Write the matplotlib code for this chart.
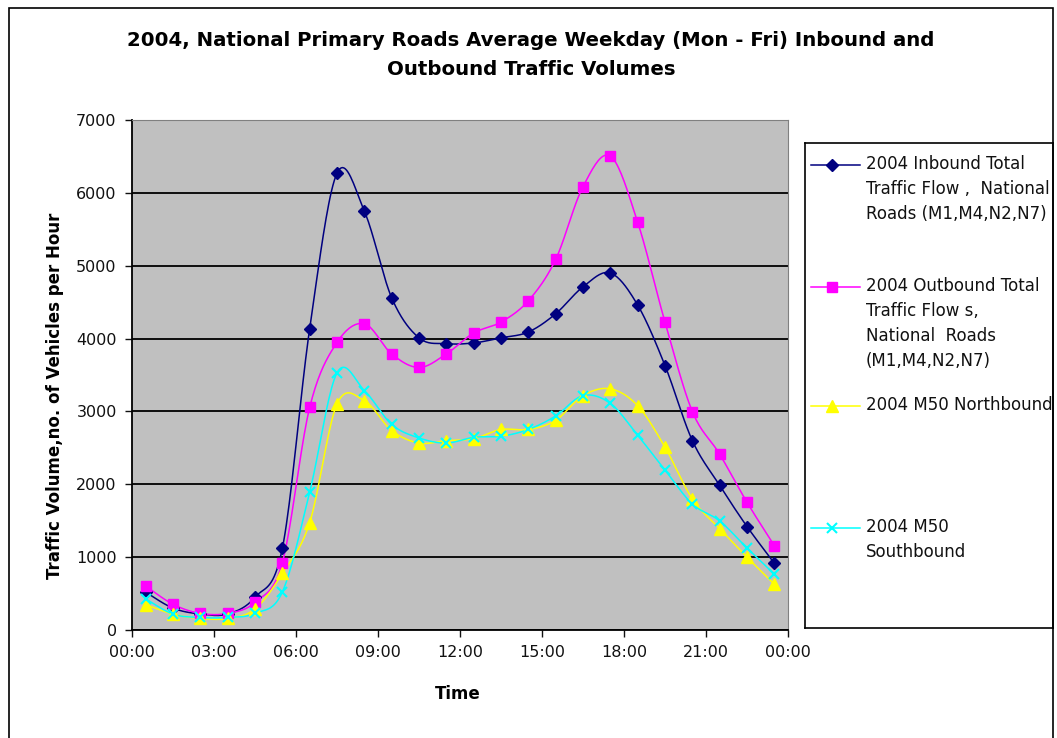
import numpy as np
import matplotlib
matplotlib.use('Agg')
import matplotlib.pyplot as plt
from matplotlib.patches import Rectangle

plt.rcParams['font.family'] = ['DejaVu Sans']

# hourly sample times (mid-hour)
times = ['00:30', '01:30', '02:30', '03:30', '04:30', '05:30', '06:30', '07:30',
         '08:30', '09:30', '10:30', '11:30', '12:30', '13:30', '14:30', '15:30',
         '16:30', '17:30', '18:30', '19:30', '20:30', '21:30', '22:30', '23:30']

inbound = [520, 300, 220, 220, 450, 1120, 4135, 6270, 5750, 4560, 4010, 3930,
           3940, 4010, 4090, 4340, 4710, 4900, 4460, 3630, 2600, 1985, 1420, 916]
outbound = [604, 353, 228, 228, 381, 925, 3054, 3947, 4203, 3789, 3603, 3789,
            4077, 4226, 4519, 5086, 6086, 6504, 5597, 4226, 2999, 2413, 1753, 1158]
m50_north = [349, 218, 158, 158, 288, 776, 1474, 3101, 3147, 2738, 2566, 2599,
             2627, 2752, 2752, 2878, 3217, 3310, 3078, 2510, 1799, 1390, 1000, 628]
m50_south = [428, 218, 172, 172, 228, 521, 1892, 3529, 3287, 2822, 2636, 2566,
             2645, 2659, 2752, 2938, 3217, 3110, 2673, 2195, 1730, 1497, 1125, 767]

series_labels = ['2004 Inbound Total\nTraffic Flow ,  National\nRoads (M1,M4,N2,N7)',
                 '2004 Outbound Total\nTraffic Flow s,\nNational  Roads\n(M1,M4,N2,N7)',
                 '2004 M50 Northbound',
                 '2004 M50\nSouthbound']

tick_hours = [0, 3, 6, 9, 12, 15, 18, 21, 24]
tick_labels = ['00:00', '03:00', '06:00', '09:00', '12:00', '15:00', '18:00', '21:00', '00:00']

hours = np.array([int(t[:2]) + int(t[3:]) / 60 for t in times])


def smooth(x, y, n=20):
    # Excel-style smoothed line: uniform Catmull-Rom through the points
    p = np.column_stack([x, y]).astype(float)
    p = np.vstack([p[0], p, p[-1]])
    out = []
    t = np.linspace(0, 1, n, endpoint=False)[:, None]
    for i in range(1, len(p) - 2):
        p0, p1, p2, p3 = p[i - 1], p[i], p[i + 1], p[i + 2]
        seg = 0.5 * ((2 * p1) + (-p0 + p2) * t + (2 * p0 - 5 * p1 + 4 * p2 - p3) * t ** 2
                     + (-p0 + 3 * p1 - 3 * p2 + p3) * t ** 3)
        out.append(seg)
    out.append(p[-2][None, :])
    out = np.vstack(out)
    return out[:, 0], out[:, 1]


W, H = 1057, 738
fig = plt.figure(figsize=(W / 100, H / 100), dpi=100)

# outer chart border
fig.patches.append(Rectangle((9 / W, -0.05), 1044 / W, 0.05 + (H - 8) / H,
                             transform=fig.transFigure, fill=False,
                             edgecolor='black', linewidth=1.2))

ax = fig.add_axes([132 / W, (H - 630) / H, 656 / W, 510 / H])
ax.set_facecolor('#C0C0C0')

styles = [
    dict(color='#000080', marker='D', ms=6.5, mec='#000080', mfc='#000080'),
    dict(color='#FF00FF', marker='s', ms=7, mec='#FF00FF', mfc='#FF00FF'),
    dict(color='#FFFF00', marker='^', ms=8, mec='#FFFF00', mfc='#FFFF00'),
    dict(color='#00FFFF', marker='x', ms=7.5, mec='#00FFFF', mew=1.5),
]
all_series = [inbound, outbound, m50_north, m50_south]

for vals, st in zip(all_series, styles):
    sx, sy = smooth(hours, vals)
    ax.plot(sx, sy, color=st['color'], lw=1.1, zorder=3)
    ax.plot(hours, vals, ls='none', zorder=4, **{k: v for k, v in st.items() if k != 'color'})

ax.set_xlim(0, 24)
ax.set_ylim(0, 7000)
ax.set_xticks(tick_hours)
ax.set_xticklabels(tick_labels)
ax.set_yticks(range(0, 7001, 1000))
ax.tick_params(direction='out', length=5, width=1, labelsize=11.5, colors='#111111', pad=6)
ax.yaxis.grid(True, color='black', lw=1.3)
ax.set_axisbelow(True)
for s in ['top', 'right']:
    ax.spines[s].set_color('#808080')
for s in ['left', 'bottom']:
    ax.spines[s].set_color('black')
    ax.spines[s].set_linewidth(1.3)

fig.text(531 / W, 1 - 55 / H,
         '2004, National Primary Roads Average Weekday (Mon - Fri) Inbound and\nOutbound Traffic Volumes',
         ha='center', va='center', fontsize=14.2, fontweight='bold', linespacing=1.7)
fig.text(55 / W, 1 - 396 / H, 'Traffic Volume,no. of Vehicles per Hour', rotation=90,
         ha='center', va='center', fontsize=12, fontweight='bold')
fig.text(458 / W, 1 - 694 / H, 'Time', ha='center', va='center', fontsize=12, fontweight='bold')

# legend box drawn as its own axes, in pixel units
lax = fig.add_axes([805 / W, (H - 628) / H, 248 / W, 485 / H])
lax.set_xlim(0, 248)
lax.set_ylim(485, 0)
lax.set_xticks([])
lax.set_yticks([])
for s in lax.spines.values():
    s.set_color('black')
    s.set_linewidth(1.2)
entry_y = [22, 144, 263, 385]
for ey, lab, st in zip(entry_y, series_labels, styles):
    lax.plot([6, 55], [ey, ey], color=st['color'], lw=1.1)
    lax.plot([27], [ey], ls='none', **{k: v for k, v in st.items() if k != 'color'})
    lax.text(61, ey - 10, lab, ha='left', va='top', fontsize=12, linespacing=1.5,
             color='#111111', clip_on=True)

fig.savefig('out.png', dpi=100)
